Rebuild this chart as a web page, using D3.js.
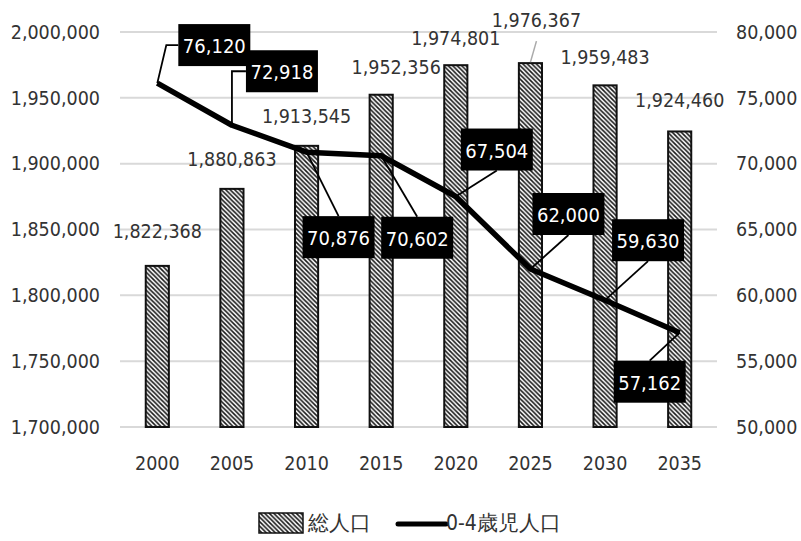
<!DOCTYPE html>
<html>
<head>
<meta charset="utf-8">
<script src="https://cdn.jsdelivr.net/npm/d3@7"></script>
<style>
  body { margin: 0; background: #fff; }
  text { font-family: "Liberation Sans Narrow", "DejaVu Sans Condensed", sans-serif; }
</style>
</head>
<body>
<div id="chart"></div>
<script>
// data
const years = ["2000", "2005", "2010", "2015", "2020", "2025", "2030", "2035"];
const totalPop = [1822368, 1880863, 1913545, 1952356, 1974801, 1976367, 1959483, 1924460];
const childPop = [76120, 72918, 70876, 70602, 67504, 62000, 59630, 57162];
const leftTicks = [1700000, 1750000, 1800000, 1850000, 1900000, 1950000, 2000000];
const rightTicks = [50000, 55000, 60000, 65000, 70000, 75000, 80000];
const seriesNames = ["総人口", "0-4歳児人口"];

// label layout (offsets from the mark, in px)
const barLabelShift = [[0, -34], [0, -29], [0, -29], [15, -27], [0, -27], [6, -43], [0, -28], [0, -31]];
const boxLabelShift = [[57, -38], [50, -54], [32, 85], [36, 82], [41, -47], [38, -55], [43, -60], [-30, 49]];

const W = 801, H = 541;
const margin = { top: 32, right: 84, bottom: 114, left: 120 };
const fontStack = "'Liberation Sans Narrow', 'DejaVu Sans Condensed', sans-serif";
const textCol = "#333";

const svg = d3.select("#chart").append("svg")
  .attr("width", W).attr("height", H);

const defs = svg.append("defs");
const pat = defs.append("pattern")
  .attr("id", "hatch")
  .attr("patternUnits", "userSpaceOnUse")
  .attr("width", 4.5).attr("height", 4.5);
pat.append("rect").attr("width", 4.5).attr("height", 4.5).attr("fill", "#fff");
pat.append("path")
  .attr("d", "M0,0 L4.5,4.5 M-1,3.5 L1,5.5 M3.5,-1 L5.5,1")
  .attr("stroke", "#1a1a1a").attr("stroke-width", 1.6);

const x = d3.scaleBand().domain(years)
  .range([margin.left, W - margin.right])
  .paddingInner(0.69).paddingOuter(0.345);
const yL = d3.scaleLinear().domain([1700000, 2000000])
  .range([H - margin.bottom, margin.top]);
const yR = d3.scaleLinear().domain([50000, 80000])
  .range([H - margin.bottom, margin.top]);

const fmt = d3.format(",");

// grid
svg.append("g").selectAll("line").data(leftTicks).join("line")
  .attr("x1", margin.left).attr("x2", W - margin.right)
  .attr("y1", d => yL(d)).attr("y2", d => yL(d))
  .attr("stroke", "#d9d9d9").attr("stroke-width", 2);

function styleAxis(g) {
  g.select(".domain").remove();
  g.selectAll("text").attr("font-size", 19.5).attr("fill", textCol)
    .attr("font-family", fontStack);
}

// left axis
svg.append("g")
  .attr("transform", `translate(${margin.left},0)`)
  .call(d3.axisLeft(yL).tickValues(leftTicks).tickFormat(fmt).tickSize(0).tickPadding(20))
  .call(styleAxis);

// right axis
svg.append("g")
  .attr("transform", `translate(${W - margin.right},0)`)
  .call(d3.axisRight(yR).tickValues(rightTicks).tickFormat(fmt).tickSize(0).tickPadding(19))
  .call(styleAxis);

// x axis
svg.append("g")
  .attr("transform", `translate(0,${H - margin.bottom})`)
  .call(d3.axisBottom(x).tickSize(0).tickPadding(29))
  .call(styleAxis);

// bars
svg.append("g").selectAll("rect").data(totalPop).join("rect")
  .attr("x", (d, i) => x(years[i]))
  .attr("width", x.bandwidth())
  .attr("y", d => yL(d))
  .attr("height", d => yL(1700000) - yL(d))
  .attr("fill", "url(#hatch)")
  .attr("stroke", "#111").attr("stroke-width", 2);

// bar value labels
const cx = i => x(years[i]) + x.bandwidth() / 2;
svg.append("line")
  .attr("x1", cx(5)).attr("y1", yL(totalPop[5]) - 1)
  .attr("x2", cx(5) + 6).attr("y2", yL(totalPop[5]) - 22)
  .attr("stroke", "#aaa").attr("stroke-width", 1.5);
svg.append("g").selectAll("text").data(totalPop).join("text")
  .attr("x", (d, i) => cx(i) + barLabelShift[i][0])
  .attr("y", (d, i) => yL(d) + barLabelShift[i][1])
  .attr("text-anchor", "middle").attr("dominant-baseline", "central")
  .attr("font-size", 19.5).attr("fill", textCol)
  .text(d => fmt(d));

// line
const line = d3.line().x((d, i) => cx(i)).y(d => yR(d));
svg.append("path").datum(childPop)
  .attr("d", line)
  .attr("fill", "none").attr("stroke", "#000")
  .attr("stroke-width", 5.5).attr("stroke-linejoin", "round");

// boxed labels with leader lines
const boxW = 72, boxH = 42;
const lab = svg.append("g");
childPop.forEach((v, i) => {
  const px = cx(i), py = yR(v);
  const bx = px + boxLabelShift[i][0], by = py + boxLabelShift[i][1];
  let pts;
  if (i < 2) {
    // elbow into the left side of the box
    const lx = bx - boxW / 2;
    pts = i === 0 ? [[px, py], [lx - 12, by], [lx, by]] : [[px, py], [px, by], [lx, by]];
  } else {
    const ey = boxLabelShift[i][1] > 0 ? by - boxH / 2 : by + boxH / 2;
    pts = [[px, py], [bx, ey]];
  }
  lab.append("path").attr("d", d3.line()(pts))
    .attr("fill", "none").attr("stroke", "#000").attr("stroke-width", 1.8);
});
childPop.forEach((v, i) => {
  const bx = cx(i) + boxLabelShift[i][0], by = yR(v) + boxLabelShift[i][1];
  lab.append("rect")
    .attr("x", bx - boxW / 2).attr("y", by - boxH / 2)
    .attr("width", boxW).attr("height", boxH).attr("fill", "#000");
  lab.append("text")
    .attr("x", bx).attr("y", by + 1)
    .attr("text-anchor", "middle").attr("dominant-baseline", "central")
    .attr("font-size", 20).attr("fill", "#fff")
    .text(fmt(v));
});

// legend
const lg = svg.append("g").attr("transform", "translate(0,523)");
lg.append("rect").attr("x", 259).attr("y", -10).attr("width", 44).attr("height", 20)
  .attr("fill", "url(#hatch)").attr("stroke", "#111").attr("stroke-width", 1.5);
lg.append("text").attr("x", 308).attr("y", 0).attr("dominant-baseline", "central")
  .attr("font-family", "'Noto Sans CJK JP', sans-serif")
  .attr("font-size", 21).attr("fill", textCol).text(seriesNames[0]);
lg.append("line").attr("x1", 398).attr("x2", 446).attr("y1", 1).attr("y2", 1)
  .attr("stroke", "#000").attr("stroke-width", 5).attr("stroke-linecap", "round");
lg.append("text").attr("x", 446).attr("y", 0).attr("dominant-baseline", "central")
  .attr("font-family", "'Noto Sans CJK JP', sans-serif")
  .attr("font-size", 21).attr("fill", textCol).text(seriesNames[1]);
</script>
</body>
</html>
